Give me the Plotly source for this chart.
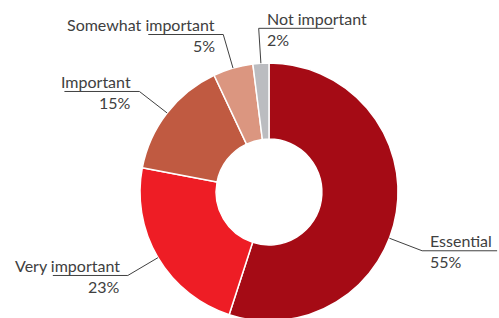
import math
import plotly.graph_objects as go

# ---- data ----
labels = ["Essential", "Very important", "Important", "Somewhat important", "Not important"]
values = [55, 23, 15, 5, 2]
colors = ["#A50B15", "#EE1D25", "#C05A41", "#DB9680", "#BBBCC0"]

# ---- style / layout constants ----
W, H = 499, 324
cx, cy, R = 269, 192, 129
hole = 0.41
elbow_ext = 35
underline_len = 75
side = [1, -1, -1, -1, 1]          # direction of the underline
angle_offset = [12, 0, 0, 0, 0]    # leader-line angle tweak (deg)
text_gap = 6
label_dy = -10
value_dy = 11
font = dict(family="Lato, sans-serif", size=16, color="#404040")
line_col = "#404040"

fig = go.Figure()
fig.add_trace(go.Pie(
    labels=labels, values=values, sort=False, direction="clockwise", rotation=0,
    hole=hole, textinfo="none", hoverinfo="label+percent",
    marker=dict(colors=colors, line=dict(color="white", width=1.5)),
    domain=dict(x=[(cx - R) / W, (cx + R) / W], y=[1 - (cy + R) / H, 1 - (cy - R) / H]),
    showlegend=False,
))

shapes, annotations = [], []
total = sum(values)
cum = 0
for i, (lab, v) in enumerate(zip(labels, values)):
    mid = (cum + v / 2) / total * 360 + angle_offset[i]
    cum += v
    a = math.radians(mid)
    ax, ay = cx + R * math.sin(a), cy - R * math.cos(a)
    ex, ey = cx + (R + elbow_ext) * math.sin(a), cy - (R + elbow_ext) * math.cos(a)
    hx = ex + side[i] * underline_len
    shapes.append(dict(type="path", xref="x", yref="y",
                       path=f"M{ax},{ay} L{ex},{ey} L{hx},{ey}",
                       line=dict(color=line_col, width=1)))
    tx = ex + side[i] * text_gap
    anchor = "left" if side[i] > 0 else "right"
    annotations.append(dict(x=tx, y=ey + label_dy, xref="x", yref="y", text=lab,
                            showarrow=False, xanchor=anchor, yanchor="middle", font=font))
    annotations.append(dict(x=tx, y=ey + value_dy, xref="x", yref="y", text=f"{v}%",
                            showarrow=False, xanchor=anchor, yanchor="middle", font=font))

fig.update_layout(
    width=W, height=H, margin=dict(l=0, r=0, t=0, b=0),
    paper_bgcolor="white", plot_bgcolor="rgba(0,0,0,0)",
    xaxis=dict(range=[0, W], visible=False, fixedrange=True),
    yaxis=dict(range=[H, 0], visible=False, fixedrange=True),
    shapes=shapes, annotations=annotations,
)

fig.write_html("out.html", config={"displayModeBar": False}, post_script=(
    "document.body.style.margin='0';"
    "document.body.style.overflow='hidden';"
    "document.documentElement.style.overflow='hidden';"
))
